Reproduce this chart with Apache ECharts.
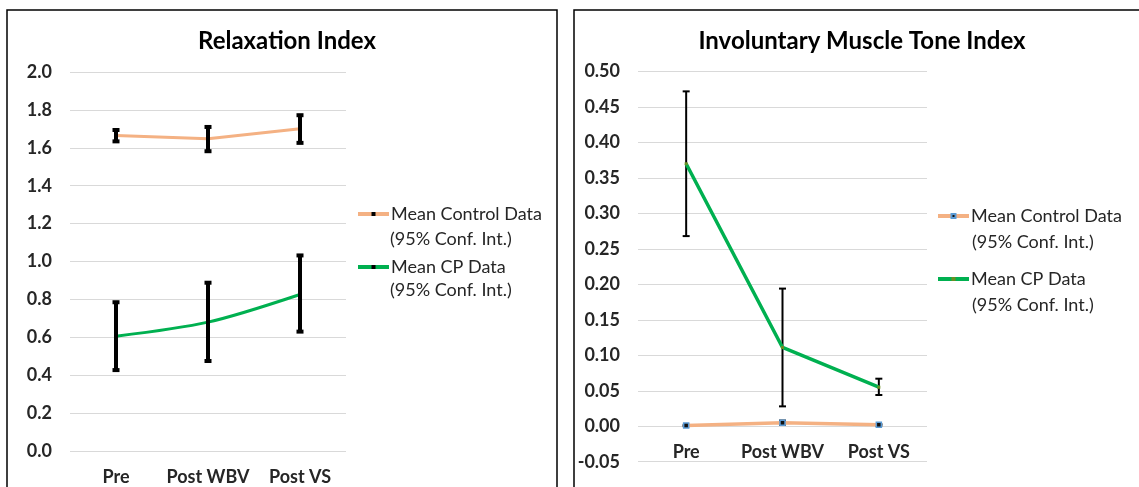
<!DOCTYPE html>
<html><head><meta charset="utf-8">
<script src="https://cdn.jsdelivr.net/npm/echarts@6/dist/echarts.min.js"></script>
<style>html,body{margin:0;padding:0;background:#fff}#c{width:1139px;height:487px}</style>
</head><body><div id="c"></div>
<script>
var categories = ['Pre', 'Post WBV', 'Post VS'];
// Relaxation Index
var relaxCtrlMean = [1.665, 1.648, 1.700];
var relaxCtrlLow  = [1.634, 1.582, 1.626];
var relaxCtrlHigh = [1.694, 1.710, 1.772];
var relaxCpMean   = [0.606, 0.680, 0.826];
var relaxCpLow    = [0.427, 0.475, 0.630];
var relaxCpHigh   = [0.785, 0.888, 1.032];
var relaxTicks    = [0.0, 2.0, 0.2];
// Involuntary Muscle Tone Index
var imtCtrlMean = [0.001, 0.005, 0.002];
var imtCtrlLow  = [0.000, 0.002, 0.001];
var imtCtrlHigh = [0.002, 0.008, 0.003];
var imtCpMean   = [0.370, 0.111, 0.055];
var imtCpLow    = [0.268, 0.028, 0.044];
var imtCpHigh   = [0.472, 0.194, 0.067];
var imtTicks    = [-0.05, 0.50, 0.05];
var legendFirst  = { ctrlL: 'Mean Control Data', cpL: 'Mean CP Data', ctrlR: 'Mean Control Data', cpR: 'Mean CP Data' };
var legendSecond = '(95% Conf. Int.)';

var ORANGE = '#F4B183', GREEN = '#00B050';
var FONT = 'Lato';

function errData(low, high) {
  return categories.map(function (c, i) { return [i, low[i], high[i]]; });
}
function errSeries(name, idx, low, high, lw, cap) {
  return {
    type: 'custom', name: name, xAxisIndex: idx, yAxisIndex: idx, z: 5,
    data: errData(low, high),
    renderItem: function (params, api) {
      var x = api.value(0);
      var lo = api.coord([x, api.value(1)]);
      var hi = api.coord([x, api.value(2)]);
      var st = { stroke: '#000', lineWidth: lw };
      return { type: 'group', children: [
        { type: 'line', shape: { x1: lo[0], y1: lo[1], x2: hi[0], y2: hi[1] }, style: st },
        { type: 'line', shape: { x1: lo[0] - cap, y1: lo[1], x2: lo[0] + cap, y2: lo[1] }, style: st },
        { type: 'line', shape: { x1: hi[0] - cap, y1: hi[1], x2: hi[0] + cap, y2: hi[1] }, style: st }
      ]};
    }
  };
}
function xAx(idx, offset) {
  return { type: 'category', gridIndex: idx, data: categories, boundaryGap: true, offset: offset,
    axisLine: { show: false, onZero: false }, axisTick: { show: false },
    axisLabel: { interval: 0, fontFamily: FONT, fontWeight: 'bold', fontSize: 18, color: '#262626', margin: 17 } };
}
function yAx(idx, t, dec) {
  return { type: 'value', gridIndex: idx, min: t[0], max: t[1], interval: t[2],
    axisLine: { show: false }, axisTick: { show: false },
    splitLine: { lineStyle: { color: '#D9D9D9', width: 1 } },
    axisLabel: { fontFamily: FONT, fontWeight: 'bold', fontSize: 18, color: '#262626', margin: 18,
      formatter: function (v) { return v.toFixed(dec); } } };
}
function legendCfg(names, left, top, gap) {
  return { data: names, orient: 'vertical', left: left, top: top, itemGap: gap,
    itemWidth: 31, itemHeight: 5, lineStyle: { width: 4 },
    formatter: function (n) { return legendFirst[n]; },
    textStyle: { fontFamily: FONT, fontSize: 18, color: '#262626', padding: [0, 0, 0, -3] } };
}
function secondLine(x, y) {
  return { type: 'text', left: x, top: y, style: { text: legendSecond, fontFamily: FONT, fontSize: 18, fill: '#262626' } };
}

var chart = echarts.init(document.getElementById('c'), null, { renderer: 'canvas' });
chart.setOption({
  animation: false,
  graphic: [
    { type: 'rect', shape: { x: 7, y: 10, width: 550, height: 490 }, style: { fill: 'none', stroke: '#000', lineWidth: 1.5 }, z: -1 },
    { type: 'rect', shape: { x: 574, y: 10, width: 580, height: 490 }, style: { fill: 'none', stroke: '#000', lineWidth: 1.5 }, z: -1 },
    secondLine(390, 230), secondLine(390, 281),
    secondLine(972, 233), secondLine(972, 296)
  ],
  title: [
    { text: 'Relaxation Index', left: 282, top: 24, textAlign: 'center',
      textStyle: { fontFamily: FONT, fontWeight: 'bold', fontSize: 24, color: '#000' } },
    { text: 'Involuntary Muscle Tone Index', left: 857, top: 24, textAlign: 'center',
      textStyle: { fontFamily: FONT, fontWeight: 'bold', fontSize: 24, color: '#000' } }
  ],
  legend: [
    legendCfg(['ctrlL', 'cpL'], 351, 200, 35),
    legendCfg(['ctrlR', 'cpR'], 931, 202, 45)
  ],
  grid: [
    { left: 70, right: 793, top: 72, bottom: 36, outerBoundsMode: 'none' },
    { left: 638, right: 212, top: 71.5, bottom: 25.3, outerBoundsMode: 'none' }
  ],
  xAxis: [xAx(0, 0), xAx(1, -35.5)],
  yAxis: [yAx(0, relaxTicks, 1), yAx(1, imtTicks, 2)],
  series: [
    { type: 'line', name: 'ctrlL', xAxisIndex: 0, yAxisIndex: 0, data: relaxCtrlMean,
      lineStyle: { color: ORANGE, width: 3 }, itemStyle: { color: '#000' }, symbol: 'rect', symbolSize: 3 },
    { type: 'line', name: 'cpL', xAxisIndex: 0, yAxisIndex: 0, data: relaxCpMean, smooth: 0.3,
      lineStyle: { color: GREEN, width: 3 }, itemStyle: { color: '#000' }, symbol: 'rect', symbolSize: 3 },
    errSeries('errCtrlL', 0, relaxCtrlLow, relaxCtrlHigh, 4, 3.5),
    errSeries('errCpL', 0, relaxCpLow, relaxCpHigh, 4, 3.5),
    { type: 'line', name: 'ctrlR', xAxisIndex: 1, yAxisIndex: 1, data: imtCtrlMean,
      lineStyle: { color: ORANGE, width: 3.5 }, itemStyle: { color: '#111', borderColor: '#5B9BD5', borderWidth: 1.5 },
      symbol: 'rect', symbolSize: 5, z: 6 },
    { type: 'line', name: 'cpR', xAxisIndex: 1, yAxisIndex: 1, data: imtCpMean,
      lineStyle: { color: GREEN, width: 3.5 }, itemStyle: { color: '#6B8E23' }, symbol: 'rect', symbolSize: 3, z: 6 },
    errSeries('errCtrlR', 1, imtCtrlLow, imtCtrlHigh, 2, 3.5),
    errSeries('errCpR', 1, imtCpLow, imtCpHigh, 2, 3.5)
  ]
});
</script></body></html>
